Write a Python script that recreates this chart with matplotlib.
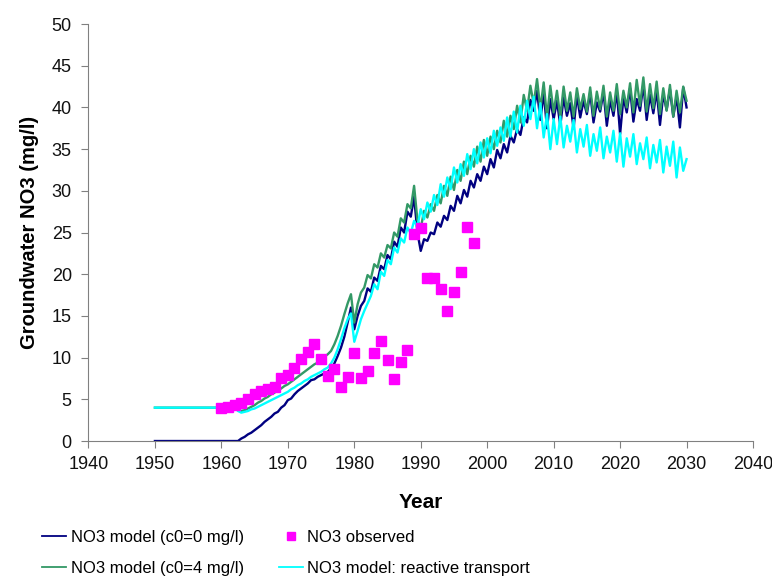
import numpy as np
import matplotlib
matplotlib.use("Agg")
import matplotlib.pyplot as plt
from matplotlib.lines import Line2D

plt.rcParams['font.family'] = ['Liberation Sans', 'DejaVu Sans']

# observed NO3 (mg/l)
obs_years = [1960, 1961, 1962, 1963, 1964, 1965, 1966, 1967, 1968, 1969,
             1970, 1971, 1972, 1973, 1974, 1975, 1976, 1977, 1978, 1979,
             1980, 1981, 1982, 1983, 1984, 1985, 1986, 1987, 1988, 1989,
             1990, 1991, 1992, 1993, 1994, 1995, 1996, 1997, 1998]
obs_no3 = [3.9, 4.1, 4.3, 4.6, 5.0, 5.6, 6.0, 6.2, 6.5, 7.5,
           7.9, 8.8, 9.8, 10.7, 11.6, 9.8, 7.8, 8.6, 6.5, 7.7,
           10.6, 7.6, 8.4, 10.6, 12.0, 9.7, 7.4, 9.5, 10.9, 24.8,
           25.5, 19.6, 19.6, 18.2, 15.6, 17.9, 20.3, 25.7, 23.8]

# model series: one value at 1950, then every half year 1962.0 .. 2030.0
model_years = [1950] + list(np.arange(1962, 2030.5, 0.5))

no3_c0_0 = [0.0,
    0.0, 0.0, 0.3, 0.5, 0.8, 1.0, 1.3, 1.6, 1.9, 2.3,
    2.6, 2.9, 3.3, 3.5, 4.0, 4.3, 4.9, 5.1, 5.6, 6.0,
    6.3, 6.6, 6.9, 7.3, 7.4, 7.7, 7.9, 8.1, 8.3, 8.7,
    9.3, 10.2, 11.2, 12.5, 14.2, 16.0, 13.4, 15.0, 16.2, 16.8,
    18.3, 17.9, 19.6, 19.2, 21.0, 20.6, 22.3, 21.8, 23.9, 23.3,
    25.6, 25.0, 27.5, 26.9, 29.3, 25.0, 22.8, 24.2, 24.0, 25.0,
    24.8, 26.2, 25.7, 27.0, 26.5, 28.2, 27.6, 29.4, 28.5, 30.1,
    29.3, 31.2, 30.4, 32.0, 31.2, 32.9, 32.0, 33.8, 32.8, 34.9,
    33.9, 35.6, 34.6, 36.6, 35.8, 37.4, 36.7, 38.8, 38.2, 40.9,
    39.6, 42.0, 38.5, 41.8, 37.5, 41.0, 38.6, 40.8, 37.8, 41.2,
    39.0, 40.5, 37.5, 41.5, 38.8, 40.8, 39.2, 41.8, 38.2, 40.6,
    39.5, 41.9, 37.8, 40.9, 39.0, 42.0, 36.8, 41.2, 39.4, 42.3,
    38.3, 41.0, 39.6, 42.8, 38.5, 41.5, 39.3, 42.0, 37.9, 41.6,
    39.7, 42.2, 38.9, 41.3, 37.6, 42.4, 40.0]

no3_c0_4 = [4.0,
    4.0, 3.7, 3.6, 3.7, 3.9, 4.1, 4.3, 4.6, 4.8, 5.1,
    5.3, 5.6, 5.8, 6.1, 6.3, 6.6, 6.8, 7.1, 7.4, 7.7,
    8.0, 8.3, 8.6, 8.9, 9.2, 9.4, 9.8, 10.1, 10.4, 10.8,
    11.6, 12.6, 13.8, 15.2, 16.5, 17.6, 14.2, 16.4, 17.8, 18.4,
    19.9, 19.5, 21.2, 20.8, 22.5, 22.0, 23.5, 23.1, 25.0, 24.5,
    26.7, 26.2, 28.4, 27.9, 30.6, 26.5, 25.5, 27.6, 26.8, 28.4,
    27.6, 29.5, 28.5, 30.6, 29.4, 31.7, 30.1, 32.5, 31.2, 33.5,
    32.0, 34.2, 32.9, 35.3, 33.5, 36.1, 34.2, 36.5, 35.0, 37.2,
    35.8, 38.4, 36.5, 39.0, 37.4, 40.2, 38.2, 41.5, 39.6, 42.6,
    40.4, 43.4, 39.8, 43.0, 38.8, 42.6, 39.4, 42.0, 38.8, 42.5,
    39.6, 41.8, 38.9, 42.3, 39.8, 41.6, 39.5, 42.4, 39.0, 41.9,
    39.8, 42.6, 38.9, 41.8, 39.6, 42.8, 39.2, 42.0, 40.0, 42.9,
    39.4, 43.3, 40.2, 43.6, 39.5, 42.8, 39.9, 43.1, 39.2, 42.3,
    39.6, 42.7, 38.9, 42.0, 39.4, 42.5, 40.8]

no3_reactive = [4.0,
    4.0, 3.6, 3.4, 3.5, 3.6, 3.8, 3.9, 4.1, 4.3, 4.5,
    4.7, 4.9, 5.1, 5.3, 5.5, 5.7, 5.9, 6.2, 6.4, 6.7,
    6.9, 7.2, 7.4, 7.7, 7.9, 8.1, 8.3, 8.6, 8.8, 9.3,
    10.0, 11.0, 12.2, 13.5, 14.6, 15.3, 11.9, 13.2, 14.6, 15.6,
    16.5, 17.4, 18.8, 18.2, 20.3, 19.8, 21.7, 21.2, 23.2, 22.6,
    24.3, 23.8, 25.6, 24.9, 26.4, 25.7, 27.8, 26.6, 28.6, 27.5,
    29.5, 28.3, 30.8, 29.3, 31.6, 30.2, 32.8, 31.0, 33.2, 31.8,
    34.4, 32.6, 35.0, 33.3, 35.8, 34.0, 36.3, 34.5, 37.2, 35.4,
    37.6, 36.0, 38.8, 36.5, 39.5, 37.0, 40.2, 37.8, 40.8, 38.6,
    41.3, 37.5, 40.5, 36.4, 39.2, 35.0, 38.6, 35.6, 38.9, 35.2,
    37.8, 35.9, 38.5, 34.6, 37.4, 35.3, 37.9, 34.2, 36.8, 34.8,
    37.6, 33.9, 36.5, 34.6, 37.2, 33.5, 36.9, 32.9, 36.3, 34.1,
    36.8, 33.2, 35.7, 33.8, 36.4, 32.7, 35.5, 33.4, 36.1, 32.2,
    35.3, 33.0, 35.9, 31.6, 35.2, 32.4, 33.8]

labels = ["NO3 model (c0=0 mg/l)", "NO3 model (c0=4 mg/l)",
          "NO3 observed", "NO3 model: reactive transport"]


def main():
	fig = plt.figure(figsize=(7.72, 5.79), dpi=100)
	ax = fig.add_axes([0.1146, 0.2383, 0.8608, 0.7202])

	lw = 1.7
	ax.plot(model_years, no3_c0_0, c="#000080", linewidth=lw)
	ax.plot(model_years, no3_c0_4, c="#339966", linewidth=lw)
	ax.plot(model_years, no3_reactive, c="#00FFFF", linewidth=lw)
	ax.plot(obs_years, obs_no3, ls="none", marker="s", ms=6.5,
	        mfc="#FF00FF", mec="#FF00FF", zorder=5)

	ax.set_xlim(1940, 2040)
	ax.set_ylim(0, 50)
	ax.set_xticks(np.arange(1940, 2041, 10))
	ax.set_yticks(np.arange(0, 51, 5))
	ax.tick_params(labelsize=13, length=5, color="#808080", direction="out", labelcolor="#111111")
	ax.tick_params(axis="y", pad=7)
	ax.tick_params(axis="x", pad=6)
	ax.spines["top"].set_visible(False)
	ax.spines["right"].set_visible(False)
	ax.spines["left"].set_color("#808080")
	ax.spines["bottom"].set_color("#808080")
	ax.set_xlabel("Year", fontsize=15, fontweight="bold", labelpad=14)
	ax.set_ylabel("Groundwater NO3 (mg/l)", fontsize=14.5, fontweight="bold", labelpad=9)

	handles = [Line2D([], [], c="#000080", lw=1.3),
	           Line2D([], [], c="#339966", lw=1.3),
	           Line2D([], [], ls="none", marker="s", ms=6, mfc="#FF00FF", mec="#FF00FF"),
	           Line2D([], [], c="#00FFFF", lw=1.3)]
	fig.legend(handles, labels, ncol=2, loc="upper left",
	           bbox_to_anchor=(0.046, 0.096), frameon=False, fontsize=12,
	           handlelength=1.45, handletextpad=0.25, columnspacing=2.1,
	           labelspacing=0.95, borderaxespad=0)

	fig.savefig("out.png", dpi=100)


if __name__ == "__main__":
	main()
